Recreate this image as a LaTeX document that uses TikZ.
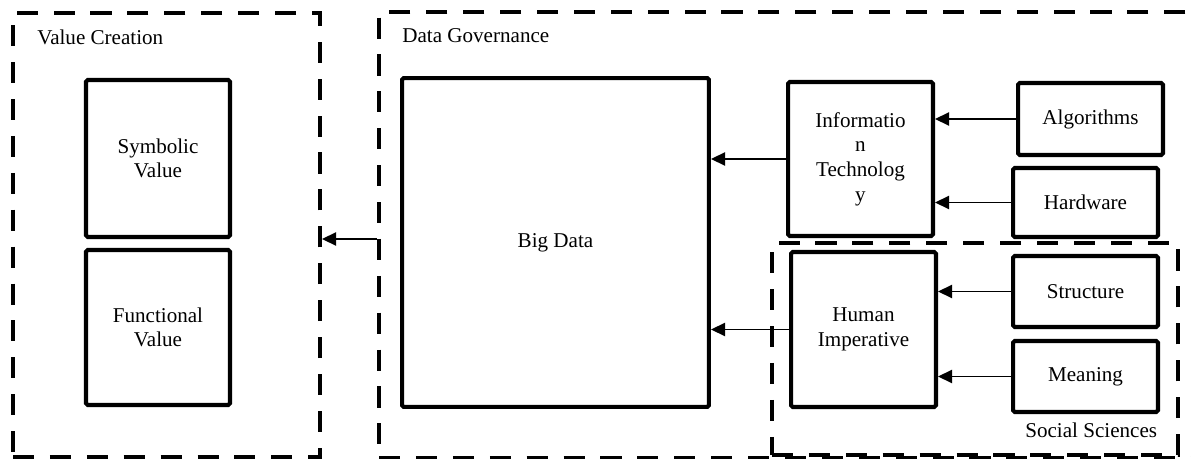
\documentclass[tikz,border=0pt]{standalone}
\usepackage{fontspec}
\setmainfont{Liberation Serif}
\usetikzlibrary{arrows.meta}
\begin{document}
\begin{tikzpicture}[x=0.02cm, y=-0.02cm]
    \tikzstyle{every node}+=[font=\fontsize{12}{14}\selectfont, inner sep=0pt]
    \tikzstyle{solidbox}=[draw, black, line width=2.3pt, align=center, rounded corners=1pt]
    \tikzstyle{dashbox}=[draw, black, line width=2.3pt, dash pattern=on 12pt off 9pt]
    \tikzstyle{arr}=[black, line width=0.9pt, -{Triangle[length=8pt,width=7.5pt]}]
    \useasboundingbox (0,0) rectangle (1191,459);
    \clip (0,0) rectangle (1191,459);
    % dashed frames
    \node [dashbox, minimum width=6.14cm, minimum height=8.88cm] (vc) at (166.5,235) {};
    \node [dashbox, minimum width=16.52cm, minimum height=8.92cm] (dg) at (792,235) {};
    \node [dashbox, minimum width=8.12cm, minimum height=4.24cm] (ss) at (975,349) {};
    \node [anchor=base west] (vclabel) at (37,45) {Value Creation};
    \node [anchor=base west] (dglabel) at (402,43) {Data Governance};
    \node [anchor=base west] (sslabel) at (1025,438) {Social Sciences};
    % value creation
    \node [solidbox, minimum width=2.88cm, minimum height=3.14cm] (sym) at (158,158.5) {Symbolic\\Value};
    \node [solidbox, minimum width=2.88cm, minimum height=3.1cm] (fun) at (158,327.5) {Functional\\Value};
    % data governance
    \node [solidbox, minimum width=6.14cm, minimum height=6.58cm] (bigdata) at (555.5,242.5) {Big Data};
    \node [solidbox, minimum width=2.9cm, minimum height=3.08cm] (it) at (860.5,159) {Informatio\\n\\Technolog\\y};
    \node [solidbox, minimum width=2.9cm, minimum height=1.44cm] (alg) at (1090.5,119) {Algorithms};
    \node [solidbox, minimum width=2.9cm, minimum height=1.38cm] (hw) at (1085.5,202.5) {Hardware};
    \node [solidbox, minimum width=2.9cm, minimum height=3.1cm] (hi) at (863.5,329.5) {Human\\Imperative};
    \node [solidbox, minimum width=2.9cm, minimum height=1.42cm] (str) at (1085.5,291.5) {Structure};
    \node [solidbox, minimum width=2.9cm, minimum height=1.42cm] (mea) at (1085.5,376.5) {Meaning};
    % arrows
    \draw [arr] (alg.west) -- (alg.west -| it.east);
    \draw [arr] (hw.west) -- (hw.west -| it.east);
    \draw [arr] (str.west) -- (str.west -| hi.east);
    \draw [arr] (mea.west) -- (mea.west -| hi.east);
    \draw [arr] (it.west) -- (it.west -| bigdata.east);
    \draw [arr] (hi.west) -- (hi.west -| bigdata.east);
    \draw [arr] (dg.west |- sym.south) -- (vc.east |- sym.south);
\end{tikzpicture}
\end{document}
